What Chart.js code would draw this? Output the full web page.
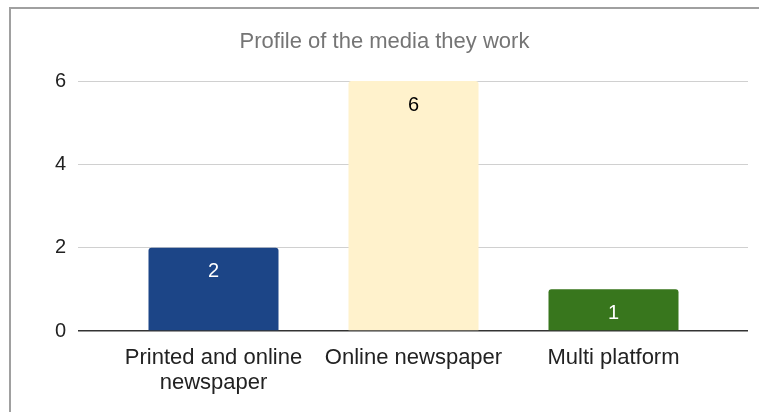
<html>
  <head>
    <script src="https://cdn.jsdelivr.net/npm/chart.js@4/dist/chart.umd.min.js"></script>
    <style>
      html,
      body {
        margin: 0;
        padding: 0;
        overflow: hidden;
        background: #fff;
        font-family: "Liberation Sans", Arial, sans-serif;
      }
      #frame {
        position: absolute;
        left: 9px;
        top: 7px;
        right: -10px;
        bottom: -10px;
        border: 2px solid #a0a0a0;
        pointer-events: none;
      }
      #mediaChart {
        position: absolute;
        left: 0;
        top: 0;
        width: 759px;
        height: 412px;
      }
    </style>
  </head>
  <body>
    <canvas id="mediaChart" width="759" height="412"></canvas>
    <div id="frame"></div>

    <script>
      const categories = ["Printed and online newspaper", "Online newspaper", "Multi platform"];
      const counts = [2, 6, 1];
      const barColors = ["#1c4587", "#fff2cc", "#38761d"];
      const valueColors = ["#ffffff", "#000000", "#ffffff"];
      const yTicks = [0, 2, 4, 6];

      // break long category names onto two lines
      const wrap = function (text) {
        if (text.length <= 20) return text;
        const words = text.split(" ");
        return [words.slice(0, -1).join(" "), words[words.length - 1]];
      };

      // value printed inside the top of each bar
      const barValues = {
        id: "barValues",
        afterDatasetsDraw(chart) {
          const ctx = chart.ctx;
          const meta = chart.getDatasetMeta(0);
          ctx.save();
          ctx.font = "20px 'Liberation Sans', Arial, sans-serif";
          ctx.textAlign = "center";
          ctx.textBaseline = "middle";
          meta.data.forEach(function (bar, i) {
            ctx.fillStyle = valueColors[i];
            ctx.fillText(String(counts[i]), bar.x, bar.y + 24);
          });
          ctx.restore();
        },
      };

      const ctx = document.getElementById("mediaChart").getContext("2d");

      var mediaChart = new Chart(ctx, {
        type: "bar",
        data: {
          datasets: [
            {
              label: "Profile of the media they work",
              data: categories.map((c, i) => ({ x: i, y: counts[i] })),
              backgroundColor: barColors,
              borderRadius: 3,
              barPercentage: 0.65,
              categoryPercentage: 1,
            },
          ],
        },
        options: {
          responsive: false,
          animation: false,
          layout: { padding: { left: 21, right: 11, top: 0, bottom: 0 } },
          plugins: {
            legend: { display: false },
            tooltip: { enabled: false },
            title: {
              display: true,
              text: "Profile of the media they work",
              color: "#757575",
              font: { family: "'Liberation Sans', Arial, sans-serif", size: 22, weight: "normal" },
              padding: { top: 29, bottom: 25.6 },
            },
          },
          scales: {
            x: {
              type: "linear",
              offset: false,
              min: -0.6775,
              max: 2.6725,
              grid: { display: false },
              border: { display: false },
              afterBuildTicks: function (scale) {
                scale.ticks = categories.map((c, i) => ({ value: i }));
              },
              afterFit: function (scale) {
                scale.height = 81;
              },
              ticks: {
                autoSkip: false,
                maxRotation: 0,
                padding: 6,
                color: "#222",
                font: { family: "'Liberation Sans', Arial, sans-serif", size: 22, lineHeight: 1.14 },
                callback: function (value) {
                  return wrap(categories[value]);
                },
              },
            },
            y: {
              min: 0,
              max: 6,
              border: { display: false },
              afterBuildTicks: function (scale) {
                scale.ticks = yTicks.map((v) => ({ value: v }));
              },
              afterFit: function (scale) {
                scale.width = 57;
              },
              grid: {
                drawTicks: false,
                color: (c) => (c.tick && c.tick.value === 0 ? "#333333" : "#d0d0d0"),
                lineWidth: (c) => (c.tick && c.tick.value === 0 ? 1.5 : 1),
              },
              ticks: {
                padding: 12,
                color: "#222",
                font: { family: "'Liberation Sans', Arial, sans-serif", size: 20 },
              },
            },
          },
        },
        plugins: [barValues],
      });
    </script>
  </body>
</html>
